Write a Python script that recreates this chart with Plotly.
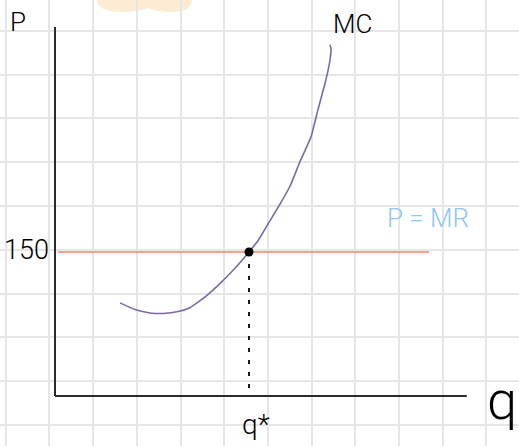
import plotly.graph_objects as go

# ---- data ----
q_mc = [13.4, 16.5, 19.6, 22.3, 25.4, 27.8, 30.9, 34.0, 37.1, 40.0, 41.9,
        43.9, 46.4, 48.5, 50.5, 52.8, 54.2, 55.7, 56.7, 56.9, 56.7]
p_mc = [97, 90, 86.5, 86, 88, 92, 103, 117, 133, 150, 162,
        179, 200, 219, 244, 270, 298, 326, 350, 362, 366]
price = 150
q_star = 40
q_price_line = [0.6, 77.1]
q_axis_end = 84.9
p_axis_end = 384.4

W, H = 519, 446
# axis origin in page pixels and the scale of each axis
X0, Y0 = 55, 396
PX_Q, PX_P = 4.85, 0.96


def qx(px):
    return (px - X0) / PX_Q


def py(px):
    return (Y0 - px) / PX_P


INK = "#2b2b2b"
fig = go.Figure()

# MC curve
fig.add_trace(go.Scatter(x=q_mc, y=p_mc, mode="lines",
                         line=dict(color="#7d68a8", width=1.6, shape="spline", smoothing=0.35),
                         hoverinfo="skip"))
# P = MR line
fig.add_trace(go.Scatter(x=q_price_line, y=[price, price], mode="lines",
                         line=dict(color="#f4826f", width=1.6), hoverinfo="skip"))
# drop line to q*
fig.add_trace(go.Scatter(x=[q_star, q_star], y=[price, 2], mode="lines",
                         line=dict(color="black", width=1.8, dash="4px,8px"), hoverinfo="skip"))
# axes
fig.add_trace(go.Scatter(x=[0, 0], y=[p_axis_end, 0], mode="lines",
                         line=dict(color=INK, width=2), hoverinfo="skip"))
fig.add_trace(go.Scatter(x=[0, q_axis_end], y=[0, 0], mode="lines",
                         line=dict(color=INK, width=2), hoverinfo="skip"))
# equilibrium point
fig.add_trace(go.Scatter(x=[q_star], y=[price], mode="markers",
                         marker=dict(color="black", size=9, symbol="circle"), hoverinfo="skip"))

hand = "Roboto, Lato, sans-serif"
ann = [
    dict(text="P", x=qx(18), y=py(22), size=26, color="black"),
    dict(text="MC", x=qx(352), y=py(24), size=26, color="black"),
    dict(text="150", x=qx(26), y=py(250), size=27, color="black"),
    dict(text="P = MR", x=qx(428), y=py(218), size=26, color="#8ec6f6"),
    dict(text="q*", x=qx(256), y=py(424), size=28, color="black"),
    dict(text="q", x=qx(502), y=py(400), size=54, color="black"),
]
for a in ann:
    fig.add_annotation(x=a["x"], y=a["y"], text=a["text"], showarrow=False,
                       font=dict(family=hand, size=a["size"], color=a["color"], weight=300),
                       xanchor="center", yanchor="middle")

# peach blob along the top edge
def pp(x, y):
    return f"{x / W:.4f},{1 - y / H:.4f}"

blob = ("M " + pp(97, 0) + " Q " + pp(98, 12) + " " + pp(122, 12) +
        " Q " + pp(140, 12) + " " + pp(148, 8) +
        " Q " + pp(158, 12) + " " + pp(170, 12) +
        " Q " + pp(192, 12) + " " + pp(192, 0) + " Z")
fig.add_shape(type="path", path=blob, xref="paper", yref="paper",
              fillcolor="#fdebd4", line=dict(width=0), layer="below")

# squared paper
grid = dict(showgrid=True, gridcolor="#e6e6e6", gridwidth=2, zeroline=False,
            showticklabels=False, ticks="", showline=False, fixedrange=True)
fig.update_xaxes(range=[qx(0), qx(W)], tick0=qx(5.7), dtick=43.7 / PX_Q, **grid)
fig.update_yaxes(range=[py(H), py(0)], tick0=py(30.7), dtick=43.8 / PX_P, **grid)

fig.update_layout(width=W, height=H, margin=dict(l=0, r=0, t=0, b=0),
                  paper_bgcolor="white", plot_bgcolor="white", showlegend=False)

fig.write_html("out.html")
